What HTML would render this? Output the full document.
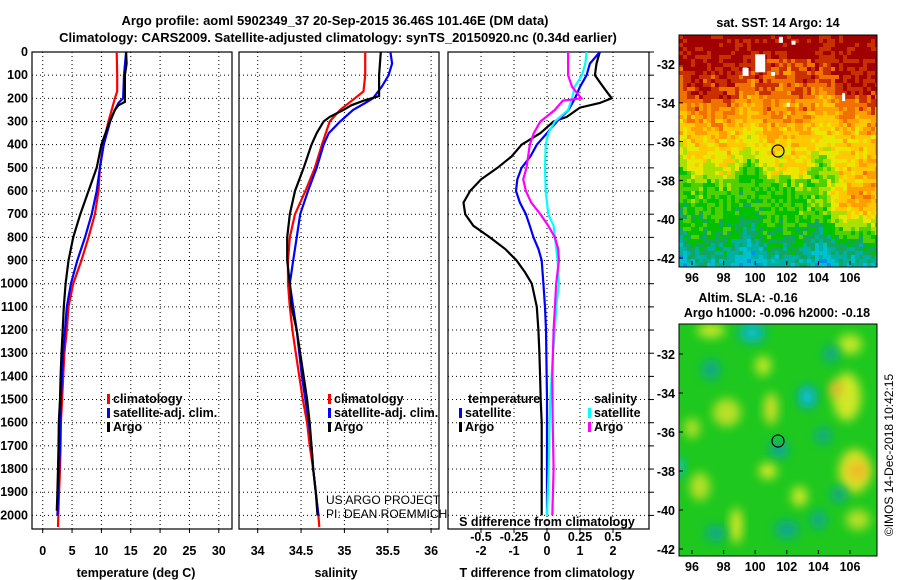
<!DOCTYPE html>
<html><head><meta charset="utf-8">
<style>
html,body{margin:0;padding:0;background:#fff;}
svg{display:block;font-family:"Liberation Sans",sans-serif;}
.b{font-weight:bold;font-size:13px;}
.t{font-weight:bold;font-size:12.5px;}
.n{font-weight:normal;font-size:12px;}
</style></head>
<body>
<svg id="s" width="900" height="580" viewBox="0 0 900 580" xmlns="http://www.w3.org/2000/svg">
<defs>
<filter id="blur" x="-50%" y="-50%" width="200%" height="200%"><feGaussianBlur stdDeviation="5"/></filter>
<clipPath id="c1"><rect x="679" y="35" width="198" height="232"/></clipPath>
<clipPath id="c2"><rect x="679" y="324" width="198" height="232"/></clipPath>
<clipPath id="cp1"><rect x="32" y="52" width="200" height="477"/></clipPath>
<clipPath id="cp2"><rect x="239" y="52" width="200" height="477"/></clipPath>
<clipPath id="cp3"><rect x="448" y="52" width="201" height="477"/></clipPath>
</defs>
<text class="b" x="335" y="25" text-anchor="middle">Argo profile: aoml 5902349_37 20-Sep-2015 36.46S 101.46E (DM data)</text>
<text class="b" x="338" y="42" text-anchor="middle">Climatology: CARS2009. Satellite-adjusted climatology: synTS_20150920.nc (0.34d earlier)</text>
<g id="g"></g>
</svg>
<script>
// ---- data ----
const depthT = [0,100,170,200,250,300,400,500,600,700,800,900,1000,1100,1200,1300,1400,1500,1600,1700,1800,1900,2000,2050];
const tempClim = [12.6,12.7,12.7,12.3,11.75,11.2,10.3,9.75,9.5,8.9,7.8,6.6,5.2,4.4,4.1,3.7,3.5,3.3,3.1,3.05,2.95,2.8,2.65,2.6];
const depthTS = [0,100,200,220,250,300,400,500,600,700,800,900,1000,1100,1200,1300,1500,1700,1900,2000];
const tempSat = [14.2,13.85,13.7,12.9,12.3,11.5,10.4,9.75,9.2,8.35,7.2,5.9,4.8,4.1,3.8,3.5,3.1,2.95,2.65,2.5];
const depthTA = [0,50,100,215,230,250,300,400,500,600,700,800,900,1000,1100,1200,1300,1400,1500,1600,1700,1800,1900,1980];
const tempArgo = [14.2,14.3,14.0,14.0,12.9,12.3,11.4,10.0,9.2,7.8,6.4,5.2,4.4,3.9,3.6,3.4,3.2,3.05,2.95,2.75,2.7,2.6,2.5,2.4];

const depthS = [0,100,170,200,250,300,400,500,600,700,800,900,1000,1100,1200,1300,1400,1500,1600,1700,1800,1900,2000,2050];
const salClim = [35.24,35.24,35.22,35.12,34.95,34.83,34.74,34.66,34.55,34.43,34.37,34.35,34.35,34.37,34.4,34.44,34.48,34.52,34.57,34.6,34.64,34.67,34.7,34.71];
const depthSS = [0,50,100,150,200,220,250,300,350,400,500,600,700,800,900,1000,1100,1200,1300,1400,1500,1600,1700,1800,1900,2000];
const salSat = [35.53,35.55,35.51,35.43,35.33,35.24,35.1,34.95,34.82,34.76,34.68,34.58,34.49,34.45,34.41,34.37,34.41,34.45,34.48,34.51,34.55,34.59,34.62,34.64,34.67,34.7];
const depthSA = [0,100,190,210,230,250,280,300,350,400,500,600,700,800,900,1000,1100,1200,1300,1400,1500,1600,1700,1800,1900,2000];
const salArgo = [35.42,35.4,35.4,35.22,35.08,34.99,34.83,34.76,34.68,34.62,34.53,34.43,34.37,34.34,34.34,34.37,34.39,34.45,34.49,34.53,34.57,34.6,34.62,34.64,34.67,34.69];

const depthD = [0,50,100,150,200,220,240,250,280,300,350,400,450,500,550,600,650,700,750,800,850,900,950,1000,1100,1200,1300,1400,1500,1600,2000];
const tDiffArgo = [1.6,1.5,1.45,1.7,1.96,1.6,1.0,0.9,0.6,0.2,-0.2,-0.77,-1.07,-1.5,-2.0,-2.33,-2.53,-2.48,-2.23,-1.73,-1.27,-0.92,-0.67,-0.46,-0.31,-0.26,-0.23,-0.21,-0.19,-0.16,-0.16];
const depthDS = [0,50,100,150,200,250,300,350,400,450,500,550,600,650,700,750,800,850,900,1000,1100,1200,1500,2000];
const tDiffSat = [1.6,1.3,1.2,1.0,0.85,0.65,0.3,0.0,-0.31,-0.5,-0.77,-0.9,-0.94,-0.82,-0.64,-0.52,-0.41,-0.26,-0.16,-0.11,-0.06,-0.03,0.0,0.0];
const depthC = [0,50,100,150,200,250,300,350,400,500,600,700,750,800,900,1000,1100,1200,1300,1400,1500,1600,1800,2000];
const sDiffSat = [0.3,0.29,0.265,0.21,0.19,0.16,0.06,0.01,-0.01,-0.015,-0.01,0.01,0.05,0.06,0.08,0.09,0.07,0.06,0.045,0.035,0.025,0.02,0.013,0.0];
const depthM = [0,100,150,200,210,250,300,350,400,500,550,600,650,700,750,800,850,900,1000,1100,1200,1400,1600,1800,2000];
const sDiffArgo = [0.16,0.16,0.19,0.26,0.12,0.06,-0.05,-0.1,-0.13,-0.155,-0.18,-0.16,-0.12,-0.05,0.01,0.06,0.085,0.09,0.07,0.06,0.05,0.04,0.043,0.05,0.04];

const depthTicks = [0,100,200,300,400,500,600,700,800,900,1000,1100,1200,1300,1400,1500,1600,1700,1800,1900,2000];
const tempTicks = [0,5,10,15,20,25,30];
const salTicks = [34,34.5,35,35.5,36];
const tdTicks = [-2,-1,0,1,2];
const sdTicks = [-0.5,-0.25,0,0.25,0.5];
const sdTickLabels = ['-0.5','-0.25','0','0.25','0.5'];
const lonTicks = [96,98,100,102,104,106];
const latTicks = [-32,-34,-36,-38,-40,-42];

// ---- scales ----
const yD = d => 52 + 0.2317*d;
const xT = t => 42.7 + 5.87*t;
const xS = s => 257.7 + 86.7*(s-34);
const xTD = t => 547 + 33*t;
const xSD = s => 547 + 132*s;
const NS = 'http://www.w3.org/2000/svg';
const G = document.getElementById('g');
function el(tag, attrs, parent){const e=document.createElementNS(NS,tag);for(const k in attrs)e.setAttribute(k,attrs[k]);(parent||G).appendChild(e);return e;}
function txt(x,y,s,cls,anchor,parent){const e=el('text',{x:x,y:y,'class':cls||'t','text-anchor':anchor||'middle'},parent);e.textContent=s;return e;}

function panel(x0,x1,ticks,xf,labels,name){
  const g=el('g',{});
  
  
  depthTicks.forEach(d=>{el('line',{x1:x0,x2:x1,y1:yD(d),y2:yD(d),stroke:'#000','stroke-dasharray':'1,3','stroke-width':1},g);});
  ticks.forEach(t=>{el('line',{x1:xf(t),x2:xf(t),y1:52,y2:529,stroke:'#000','stroke-dasharray':'1,3','stroke-width':1},g);
    el('line',{x1:xf(t),x2:xf(t),y1:529,y2:533,stroke:'#000'},g);});
  el('rect',{x:x0,y:52,width:x1-x0,height:477,fill:'none',stroke:'#000','stroke-width':1.2},g);
  ticks.forEach((t,i)=>{const lb=txt(xf(t),555,labels?labels[i]:String(t),'t','middle',g);
    
    });
  return g;
}
function line(ds,vs,xf,color,clip,name){
  const pts=ds.map((d,i)=>xf(vs[i]).toFixed(1)+','+yD(d).toFixed(1)).join(' ');
  const p=el('polyline',{points:pts,fill:'none',stroke:color,'stroke-width':2.2,'clip-path':'url(#'+clip+')'});
  
  
}
function legend(x,y,color,label,parent){
  el('rect',{x:x,y:y-9,width:3,height:10,fill:color},parent);
  const t=txt(x+6,y,label,'t','start',parent);
  
  
}

// temperature panel
panel(32,232,tempTicks,xT,null,'temperature-panel');
depthTicks.forEach(d=>{const t=txt(28,yD(d)+4,String(d),'t','end');
  
  });
line(depthT,tempClim,xT,'#f00','cp1','temp-climatology-line');
line(depthTS,tempSat,xT,'#00f','cp1','temp-satellite-line');
line(depthTA,tempArgo,xT,'#000','cp1','temp-argo-line');
const xt1=txt(136,577,'temperature (deg C)');


legend(107,403,'#f00','climatology');legend(107,417,'#00f','satellite-adj. clim.');legend(107,431,'#000','Argo');

// salinity panel
panel(239,439,salTicks,xS,null,'salinity-panel');
line(depthS,salClim,xS,'#f00','cp2','sal-climatology-line');
line(depthSS,salSat,xS,'#00f','cp2','sal-satellite-line');
line(depthSA,salArgo,xS,'#000','cp2','sal-argo-line');
const xt2=txt(336,577,'salinity');


legend(328,403,'#f00','climatology');legend(328,417,'#00f','satellite-adj. clim.');legend(328,431,'#000','Argo');
const c1=txt(326,504,'US ARGO PROJECT','n','start');


const c2=txt(326,518,'PI: DEAN ROEMMICH','n','start');



// difference panel
panel(448,649,tdTicks,xTD,null,'difference-panel');
depthTicks.forEach(d=>{el('line',{x1:649,x2:654,y1:yD(d),y2:yD(d),stroke:'#000'});});
line(depthD,tDiffArgo,xTD,'#000','cp3','tdiff-argo-line');
line(depthDS,tDiffSat,xTD,'#00f','cp3','tdiff-satellite-line');
line(depthC,sDiffSat,xSD,'#0ff','cp3','sdiff-satellite-line');
line(depthM,sDiffArgo,xSD,'#f0f','cp3','sdiff-argo-line');
txt(468,403,'temperature','t','start');
legend(459,417,'#00f','satellite');legend(459,431,'#000','Argo');
txt(594,403,'salinity','t','start');
legend(588,417,'#0ff','satellite');legend(588,431,'#f0f','Argo');
const sdt=txt(547,526,'S difference from climatology');


sdTicks.forEach((s,i)=>{const t=txt(xSD(s),541,sdTickLabels[i]);
  
  });
const tdt=txt(547,577,'T difference from climatology');



// ---- maps (imagery texture) ----
const lonX = lon => 692 + (lon-96)*15.8;
const latY1 = lat => 64 + (-32-lat)*19.4;
const latY2 = lat => 354 + (-32-lat)*19.5;
function h(i,j){let n=Math.sin(i*127.1+j*311.7)*43758.5453;return n-Math.floor(n);}
const cmap=['#0010a0','#0040e0','#0090f0','#00c0d0','#00b0a0','#10a860','#00c000','#50d000','#a8e000','#e8e800','#ffc800','#ffa000','#f07000','#c83000','#a00000'];
const latProf=[[-30.5,14],[-32,13.6],[-33,13],[-34,11.5],[-35,10.3],[-36,9.6],[-37,8.8],[-37.6,6.8],[-39.5,6.2],[-40.3,5.6],[-41,4.6],[-41.8,3.6],[-42.5,2.5]];
function base(lat){if(lat>=-30.5)return 14;for(let k=0;k<latProf.length-1;k++){const a=latProf[k],b=latProf[k+1];if(lat<=a[0]&&lat>=b[0]){return a[1]+(b[1]-a[1])*(a[0]-lat)/(a[0]-b[0]);}}return 2.5;}
const m1=el('g',{'clip-path':'url(#c1)'});


for(let j=0;j<59;j++){for(let i=0;i<50;i++){
  const lat=-30.5-j*0.2, lon=95.2+i*0.253;
  let v=base(lat + 0.5*Math.sin(lon*1.3+1) + 0.3*Math.sin(lon*2.7));
  if(lat<-31.5 && lat>-34) v-=1.3*Math.exp(-Math.pow((lon-102)/1.5,2));
  const w=Math.exp(-Math.pow((lon-106.5)/2.2,2))*Math.exp(-Math.pow((lat+38.6)/1.4,2));
  v+= w*4.5;
  v+= (h(i,j)-0.5)*2.0;
  v=Math.max(0,Math.min(14,Math.round(v)));
  el('rect',{x:679+i*4,y:35+j*4,width:4.2,height:4.2,fill:cmap[v]},m1);
}}
[[100,-31.5,10,18],[99.2,-32.2,6,8],[101.5,-30.6,4,6],[102.3,-30.8,4,4],[105.5,-33.5,3,8],[102,-34],[101,-32.4,4,4]].forEach(w=>el('rect',{x:lonX(w[0]),y:latY1(w[1]),width:w[2]||3,height:w[3]||4,fill:'#fff'},m1));
el('rect',{x:679,y:35,width:198,height:232,fill:'none',stroke:'#000'});
el('circle',{cx:778,cy:151,r:6,fill:'none',stroke:'#000','stroke-width':1.2});
const mt=txt(778,27,'sat. SST: 14 Argo: 14');



const m2=el('g',{'clip-path':'url(#c2)'});


el('rect',{x:679,y:324,width:198,height:232,fill:'#1ec81e'},m2);
const blobs=[[97.2,-30.8,'#c8e828',14,7],[99.8,-30.9,'#10b0a0',14,11],[99.8,-30.9,'#10d0d0',6,5],[97.2,-32.8,'#10a890',9,10],[100.5,-32.6,'#c0e828',8,10],[103.3,-34.2,'#10a8a0',10,12],[103.3,-34.2,'#10d0e0',5,7],[105.8,-34.2,'#d0e828',14,24],[105.1,-33.8,'#f0b030',6,8],[98.2,-35,'#b8e028',14,14],[101,-34.8,'#d0e028',7,16],[101.5,-36.9,'#10a890',10,9],[104.3,-36.2,'#10a890',8,8],[106.3,-38,'#d8e028',16,22],[106.5,-38,'#f0b828',10,8],[100.8,-38,'#d8e828',9,8],[102.8,-39.3,'#d0e828',8,10],[98.8,-40.8,'#e0e828',6,18],[102,-41,'#10a890',12,9],[97.5,-41.2,'#10a890',10,8],[104,-40.5,'#10a890',8,9],[105.3,-39.2,'#10a890',8,8],[95.2,-37.8,'#10c0c0',5,10],[96.5,-38.8,'#b8e028',10,14],[106.5,-40.5,'#b8e028',12,10],[96,-35.8,'#b0e028',8,10],[106,-31.5,'#c0e828',12,10],[104.8,-32,'#10a890',8,8]];
blobs.forEach(b=>el('ellipse',{cx:lonX(b[0]),cy:latY2(b[1]),rx:b[3],ry:b[4],fill:b[2],filter:'url(#blur)'},m2));
el('rect',{x:679,y:324,width:198,height:232,fill:'none',stroke:'#000'});
el('circle',{cx:778,cy:441,r:6,fill:'none',stroke:'#000','stroke-width':1.2});
const a1=txt(748,302,'Altim. SLA: -0.16');


const a2=txt(777,317,'Argo h1000: -0.096 h2000: -0.18');



[[latY1,282],[latY2,571]].forEach(([ly,yl])=>{
  lonTicks.forEach(l=>{el('line',{x1:lonX(l),x2:lonX(l),y1:yl-17,y2:yl-21,stroke:'#000'});
    const t=txt(lonX(l),yl,String(l));
    
    });
  latTicks.forEach(l=>{const y=ly(l);
    el('line',{x1:679,x2:683,y1:y,y2:y,stroke:'#000'});
    const t=txt(675,y+5,String(l),'t','end');
    
    });
});
const im=txt(0,0,'©IMOS 14-Dec-2018 10:42:15','n','middle');
im.setAttribute('transform','translate(893,455) rotate(-90)');


</script>
</body></html>
